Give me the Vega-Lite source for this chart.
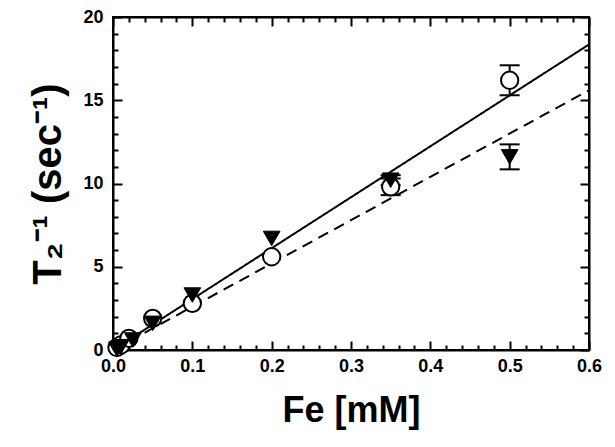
{
  "$schema": "https://vega.github.io/schema/vega-lite/v6.json",
  "width": 476,
  "height": 333,
  "autosize": "none",
  "padding": {"left": 113, "top": 17, "right": 26, "bottom": 97},
  "background": "white",
  "config": {"view": {"stroke": "black", "strokeWidth": 2}, "font": "Liberation Sans"},
  "datasets": {
    "pts": [
      {"series": "open", "fe": 0.005, "r": 0.15, "err": 0},
      {"series": "open", "fe": 0.01, "r": 0.3, "err": 0},
      {"series": "open", "fe": 0.02, "r": 0.7, "err": 0},
      {"series": "open", "fe": 0.05, "r": 1.9, "err": 0},
      {"series": "open", "fe": 0.1, "r": 2.8, "err": 0},
      {"series": "open", "fe": 0.2, "r": 5.6, "err": 0},
      {"series": "open", "fe": 0.35, "r": 9.8, "err": 0.5},
      {"series": "open", "fe": 0.5, "r": 16.2, "err": 0.9},
      {"series": "filled", "fe": 0.005, "r": 0.05, "err": 0},
      {"series": "filled", "fe": 0.01, "r": 0.2, "err": 0},
      {"series": "filled", "fe": 0.025, "r": 0.6, "err": 0},
      {"series": "filled", "fe": 0.05, "r": 1.6, "err": 0},
      {"series": "filled", "fe": 0.1, "r": 3.3, "err": 0},
      {"series": "filled", "fe": 0.2, "r": 6.7, "err": 0},
      {"series": "filled", "fe": 0.35, "r": 10.2, "err": 0.3},
      {"series": "filled", "fe": 0.5, "r": 11.6, "err": 0.75}
    ],
    "fits": [
      {"series": "open", "fe": 0, "r": 0},
      {"series": "open", "fe": 0.6, "r": 18.35},
      {"series": "filled", "fe": 0, "r": 0},
      {"series": "filled", "fe": 0.6, "r": 15.6}
    ]
  },
  "layer": [
    {
      "data": {"name": "fits"},
      "mark": {"type": "line", "opacity": 0},
      "encoding": {
        "x": {
          "field": "fe", "type": "quantitative",
          "scale": {"domain": [0, 0.6], "nice": false, "zero": false},
          "axis": {
            "orient": "bottom",
            "values": [0, 0.02, 0.04, 0.06, 0.08, 0.1, 0.12, 0.14, 0.16, 0.18, 0.2, 0.22, 0.24, 0.26, 0.28, 0.3, 0.32, 0.34, 0.36, 0.38, 0.4, 0.42, 0.44, 0.46, 0.48, 0.5, 0.52, 0.54, 0.56, 0.58, 0.6],
            "labelExpr": "abs(datum.value*10-round(datum.value*10))<0.001 ? format(datum.value,'.1f') : ''",
            "tickSize": {"condition": {"test": "abs(datum.value*10-round(datum.value*10))<0.001", "value": -9}, "value": -5},
            "tickColor": "black", "tickWidth": 2, "domainColor": "black", "domainWidth": 2, "grid": false,
            "labelFontSize": 18, "labelFontWeight": "bold", "labelColor": "black", "labelPadding": 16, "labelFlush": false,
            "title": "Fe [mM]", "titleFontSize": 36, "titleFontWeight": "bold", "titleColor": "black", "titlePadding": 18
          }
        },
        "y": {
          "field": "r", "type": "quantitative",
          "scale": {"domain": [0, 20], "nice": false, "zero": false},
          "axis": {
            "orient": "left",
            "values": [0, 1, 2, 3, 4, 5, 6, 7, 8, 9, 10, 11, 12, 13, 14, 15, 16, 17, 18, 19, 20],
            "labelExpr": "datum.value % 5 == 0 ? format(datum.value,'d') : ''",
            "tickSize": {"condition": {"test": "datum.value % 5 == 0", "value": -9}, "value": -5},
            "tickColor": "black", "tickWidth": 2, "domainColor": "black", "domainWidth": 2, "grid": false,
            "labelFontSize": 18, "labelFontWeight": "bold", "labelColor": "black", "labelPadding": 19, "labelFlush": false,
            "title": "T₂⁻¹ (sec⁻¹)", "titleFontSize": 40, "titleFontWeight": "bold", "titleColor": "black", "titlePadding": 14
          }
        }
      }
    },
    {
      "data": {"name": "fits"},
      "mark": {"type": "line", "opacity": 0},
      "encoding": {
        "x": {
          "field": "fe", "type": "quantitative",
          "scale": {"domain": [0, 0.6], "nice": false, "zero": false},
          "axis": {
            "orient": "top",
            "values": [0, 0.02, 0.04, 0.06, 0.08, 0.1, 0.12, 0.14, 0.16, 0.18, 0.2, 0.22, 0.24, 0.26, 0.28, 0.3, 0.32, 0.34, 0.36, 0.38, 0.4, 0.42, 0.44, 0.46, 0.48, 0.5, 0.52, 0.54, 0.56, 0.58, 0.6],
            "labels": false,
            "tickSize": {"condition": {"test": "abs(datum.value*10-round(datum.value*10))<0.001", "value": -9}, "value": -5},
            "tickColor": "black", "tickWidth": 2, "domainColor": "black", "domainWidth": 2, "grid": false,
            "title": null
          }
        },
        "y": {
          "field": "r", "type": "quantitative",
          "scale": {"domain": [0, 20], "nice": false, "zero": false},
          "axis": {
            "orient": "right",
            "values": [0, 1, 2, 3, 4, 5, 6, 7, 8, 9, 10, 11, 12, 13, 14, 15, 16, 17, 18, 19, 20],
            "labels": false,
            "tickSize": {"condition": {"test": "datum.value % 5 == 0", "value": -9}, "value": -5},
            "tickColor": "black", "tickWidth": 2, "domainColor": "black", "domainWidth": 2, "grid": false,
            "title": null
          }
        }
      }
    },
    {
      "data": {"name": "fits"},
      "mark": {"type": "line", "color": "black", "strokeWidth": 2, "clip": true},
      "encoding": {
        "x": {"field": "fe", "type": "quantitative", "axis": null},
        "y": {"field": "r", "type": "quantitative", "axis": null},
        "strokeDash": {"field": "series", "type": "nominal", "scale": {"domain": ["open", "filled"], "range": [[1, 0], [11, 7]]}, "legend": null}
      }
    },
    {
      "data": {"name": "pts"},
      "transform": [{"filter": "datum.err > 0"}],
      "mark": {"type": "errorbar", "color": "black", "opacity": 1, "ticks": {"size": 20, "thickness": 2, "color": "black", "opacity": 1}, "rule": {"strokeWidth": 2, "color": "black", "opacity": 1}},
      "encoding": {
        "x": {"field": "fe", "type": "quantitative", "axis": null},
        "y": {"field": "r", "type": "quantitative", "axis": null},
        "yError": {"field": "err"}
      }
    },
    {
      "data": {"name": "pts"},
      "transform": [{"filter": "datum.series == 'open'"}],
      "mark": {"type": "point", "shape": "circle", "size": 300, "filled": true, "fill": "white", "stroke": "black", "strokeWidth": 2, "opacity": 1},
      "encoding": {
        "x": {"field": "fe", "type": "quantitative", "axis": null},
        "y": {"field": "r", "type": "quantitative", "axis": null}
      }
    },
    {
      "data": {"name": "pts"},
      "transform": [{"filter": "datum.series == 'filled'"}],
      "mark": {"type": "point", "shape": "triangle-down", "size": 280, "filled": true, "fill": "black", "stroke": "black", "strokeWidth": 1, "opacity": 1},
      "encoding": {
        "x": {"field": "fe", "type": "quantitative", "axis": null},
        "y": {"field": "r", "type": "quantitative", "axis": null}
      }
    }
  ],
  "resolve": {"axis": {"x": "independent", "y": "independent"}}
}
